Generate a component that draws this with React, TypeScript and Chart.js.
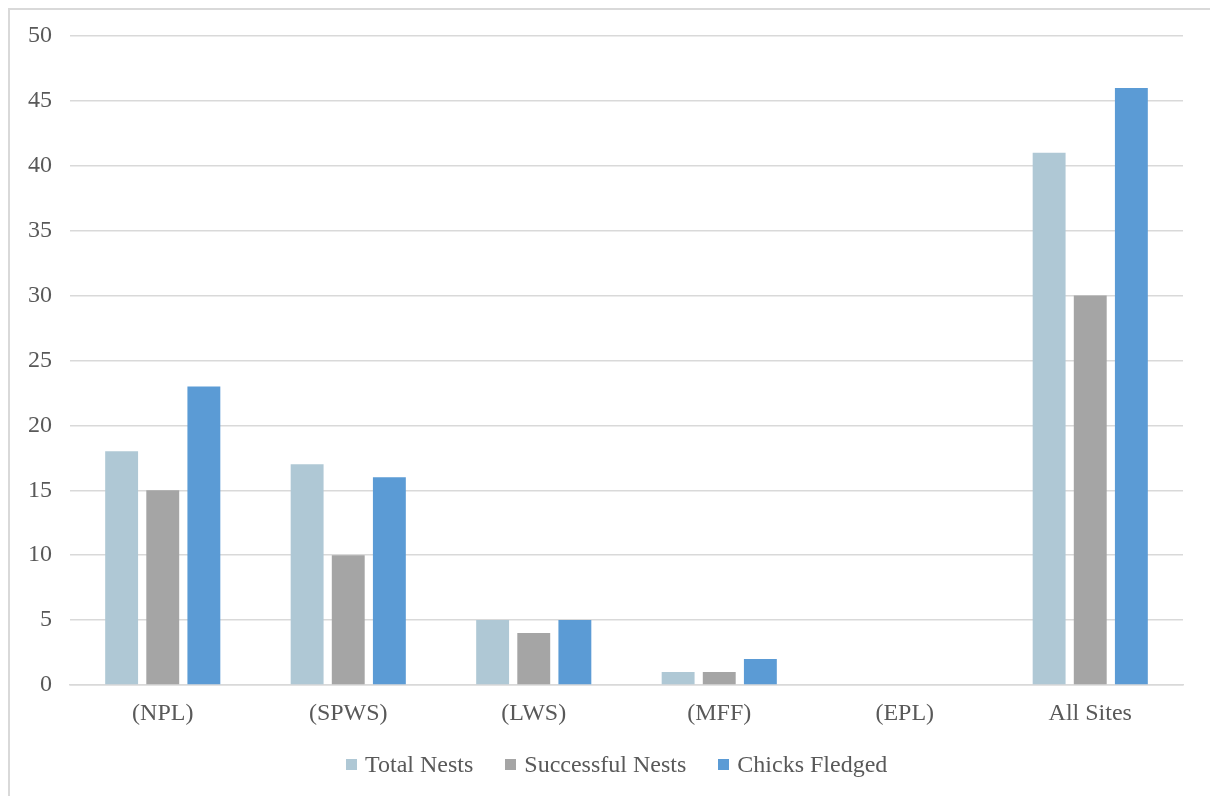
import React, { useEffect, useRef } from "react";
import { Chart, registerables } from "chart.js";

Chart.register(...registerables);

const categories = ["(NPL)", "(SPWS)", "(LWS)", "(MFF)", "(EPL)", "All Sites"];
const seriesNames = ["Total Nests", "Successful Nests", "Chicks Fledged"];
const seriesColors = ["#AFC8D5", "#A5A5A5", "#5B9BD5"];
const totalNests = [18, 17, 5, 1, 0, 41];
const successfulNests = [15, 10, 4, 1, 0, 30];
const chicksFledged = [23, 16, 5, 2, 0, 46];

const FONT = "'Liberation Serif', 'Times New Roman', serif";
const TEXT = "#595959";

export default function App() {
  const ref = useRef<HTMLCanvasElement | null>(null);

  useEffect(() => {
    if (!ref.current) return;
    const values = [totalNests, successfulNests, chicksFledged];
    const chart = new Chart(ref.current, {
      type: "bar",
      data: {
        labels: categories,
        datasets: seriesNames.map((name, i) => ({
          label: name,
          data: values[i],
          backgroundColor: seriesColors[i],
        })),
      },
      options: {
        animation: false,
        responsive: false,
        maintainAspectRatio: false,
        layout: { padding: { top: 26, right: 27, bottom: 57, left: 0 } },
        datasets: {
          bar: { categoryPercentage: 0.665, barPercentage: 0.8 },
        },
        scales: {
          x: {
            grid: { display: false },
            border: { display: true, color: "#D9D9D9", width: 1.5 },
            ticks: { color: TEXT, font: { family: FONT, size: 24 }, padding: 6 },
            afterFit: (s: any) => {
              s.height = 54;
              s.paddingLeft = 0;
              s.paddingRight = 0;
            },
          },
          y: {
            min: 0,
            max: 50,
            ticks: { stepSize: 5, color: TEXT, font: { family: FONT, size: 24 }, padding: 18 },
            grid: { color: "#D9D9D9", lineWidth: 1.5, drawTicks: false },
            border: { display: false },
            afterFit: (s: any) => {
              s.width = 60;
              s.paddingTop = 0;
              s.paddingBottom = 0;
            },
          },
        },
        plugins: {
          tooltip: { enabled: false },
          legend: { display: false },
        },
      },
    });
    return () => chart.destroy();
  }, []);

  return (
    <div
      style={{
        position: "fixed",
        left: 8,
        top: 8,
        width: 1240,
        height: 820,
        boxSizing: "border-box",
        borderTop: "2px solid #D9D9D9",
        borderLeft: "2px solid #D9D9D9",
        background: "#fff",
      }}
    >
      <canvas ref={ref} width={1200} height={786} style={{ display: "block" }} />
      <div
        style={{
          position: "absolute",
          left: 336,
          top: 740,
          display: "flex",
          alignItems: "center",
          fontFamily: FONT,
          fontSize: 24,
          lineHeight: "28px",
          color: TEXT,
          whiteSpace: "nowrap",
        }}
      >
        {seriesNames.map((name, i) => (
          <div
            key={name}
            style={{ display: "flex", alignItems: "center", marginRight: i < seriesNames.length - 1 ? 32 : 0 }}
          >
            <span
              style={{
                display: "inline-block",
                width: 11,
                height: 11,
                background: seriesColors[i],
                marginRight: 8,
              }}
            />
            <span>{name}</span>
          </div>
        ))}
      </div>
    </div>
  );
}
